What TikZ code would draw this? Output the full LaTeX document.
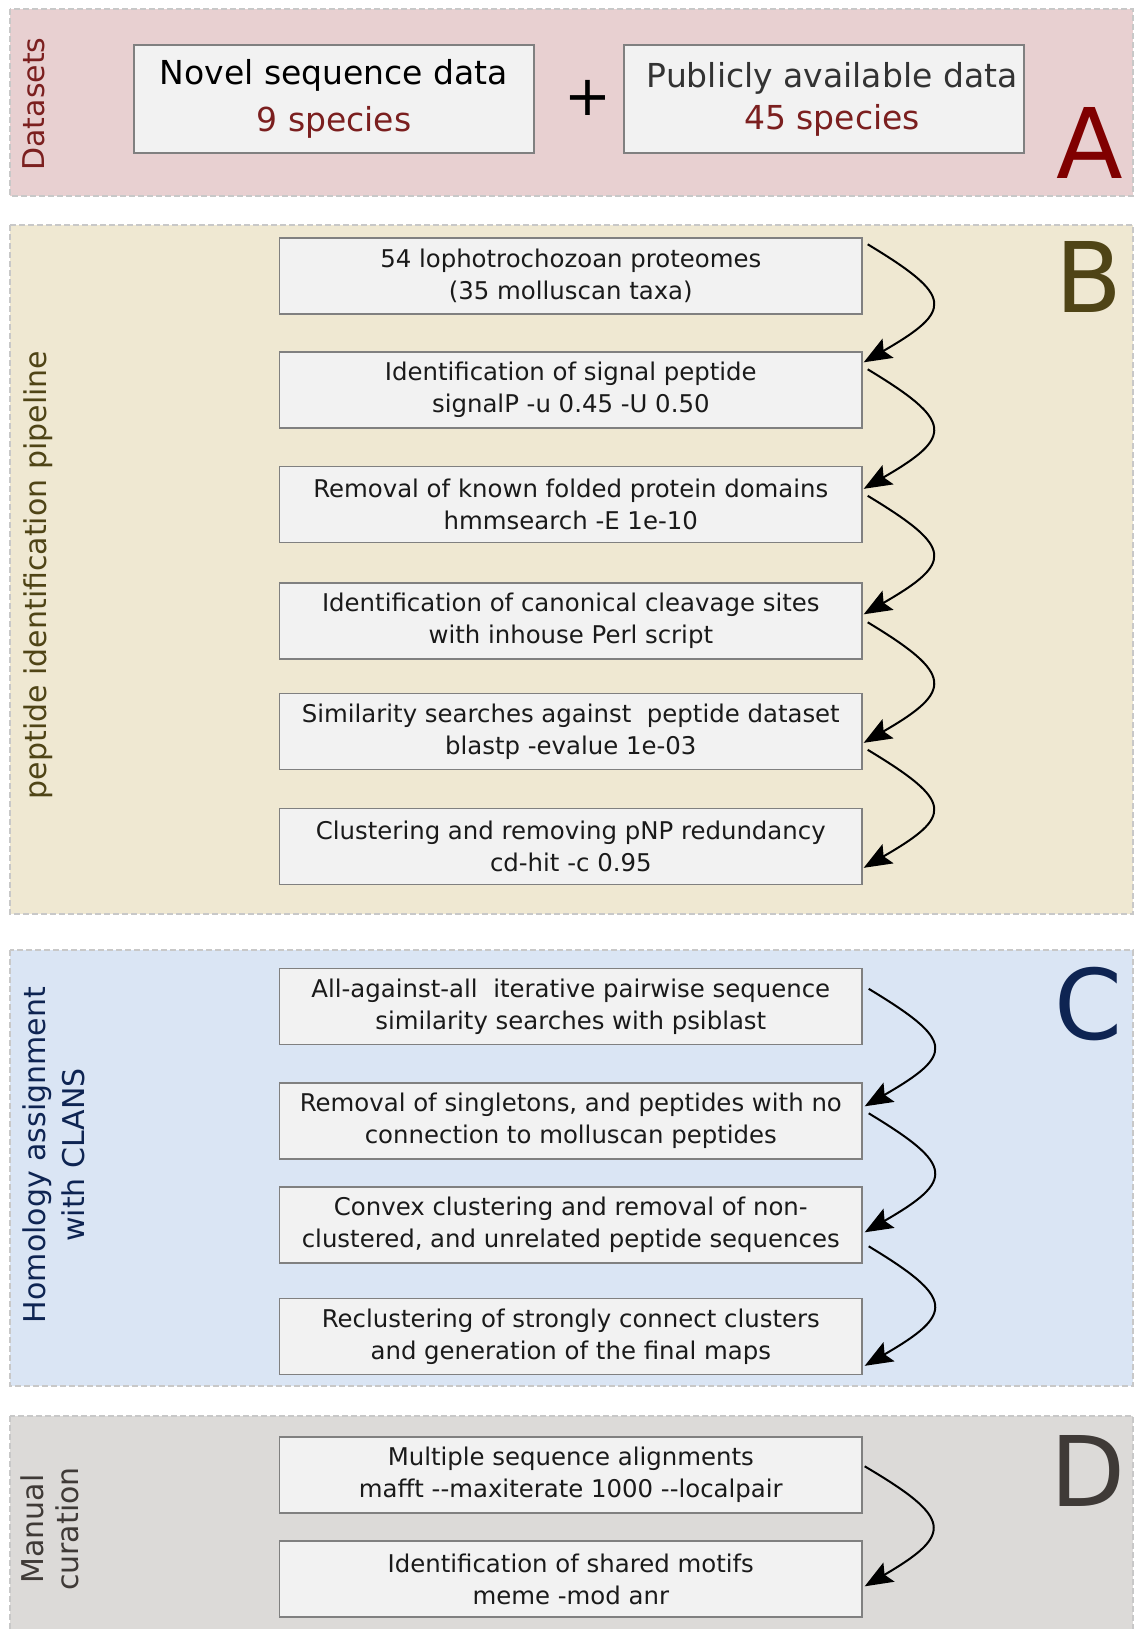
\documentclass[tikz,border=0pt]{standalone}
\usepackage{fontspec}
\setmainfont{DejaVu Sans}
\usetikzlibrary{arrows.meta}
\definecolor{panA}{RGB}{232,208,209}
\definecolor{panB}{RGB}{239,232,210}
\definecolor{panC}{RGB}{218,229,244}
\definecolor{panD}{RGB}{220,218,216}
\definecolor{panBorder}{RGB}{200,200,200}
\definecolor{boxFill}{RGB}{242,242,242}
\definecolor{boxBorder}{RGB}{128,128,128}
\definecolor{textDark}{RGB}{26,26,26}
\definecolor{colA}{RGB}{128,0,0}
\definecolor{redTxt}{RGB}{123,31,31}
\definecolor{colB}{RGB}{79,68,22}
\definecolor{colC}{RGB}{14,36,82}
\definecolor{colD}{RGB}{63,58,55}
\begin{document}
\begin{tikzpicture}[x=0.5pt,y=-0.5pt,
  panel/.style={draw=panBorder, line width=0.75pt, dash pattern=on 3pt off 1.5pt},
  stepbox/.style={draw=boxBorder, fill=boxFill, line width=0.7pt, minimum width=291.2pt, minimum height=38pt, inner sep=0pt, align=center, font=\fontsize{12.2}{16}\selectfont, text=textDark},
  databox/.style={draw=boxBorder, fill=boxFill, line width=0.7pt, minimum width=200pt, minimum height=54pt, inner sep=0pt, align=center},
  arr/.style={-{Stealth[length=14pt,width=11pt,inset=2.5pt]}, line width=1pt, black},
  big/.style={font=\fontsize{48.7}{50}\selectfont, anchor=base, inner sep=0pt},
  side/.style={rotate=90, font=\fontsize{15}{19.5}\selectfont, align=center, inner sep=0pt}
]
\useasboundingbox (0,0) rectangle (1139,1629);
\fill[white] (0,0) rectangle (1139,1629);
\clip (0,0) rectangle (1139,1629);

% panels
\draw[panel, fill=panA] (10,9) rectangle (1133,196);
\draw[panel, fill=panB] (10,225) rectangle (1133,914);
\draw[panel, fill=panC] (10,950) rectangle (1133,1386);
\draw[panel, fill=panD] (10,1416) rectangle (1133,1650);

% side labels
\node[side, text=redTxt] (sA) at (34,104) {Datasets};
\node[side, text=colB] (sB) at (38,575) {peptide identification pipeline};
\node[side, text=colC] (sC) at (54,1155) {Homology assignment\\with CLANS};
\node[side, text=colD, font=\fontsize{15}{17.5}\selectfont] (sD) at (50,1529) {Manual\\curation};

% big letters
\node[big, text=colA] (lA) at (1090,178) {A};
\node[big, text=colB] (lB) at (1089,312) {B};
\node[big, text=colC] (lC) at (1088,1039) {C};
\node[big, text=colD] (lD) at (1088,1506) {D};

% datasets
\node[databox, font=\fontsize{16.5}{23.4}\selectfont] (novel) at (334,99) {\color{black}Novel sequence data\\\color{redTxt}9 species};
\node[font=\fontsize{28}{30}\selectfont, inner sep=0pt] (plus) at (588,98) {+};
\node[databox, font=\fontsize{16.5}{21}\selectfont] (public) at (824,99) {\raisebox{1.2pt}{\color[RGB]{51,51,51}\hspace*{8pt}Publicly available data}\\\raisebox{1.2pt}{\color{redTxt}\hspace*{8pt}45 species}};

% pipeline B
\node[stepbox] (b1) at (570.8,276) {54 lophotrochozoan proteomes\\(35 molluscan taxa)};
\node[stepbox] (b2) at (570.8,390) {Identification of signal peptide\\signalP -u 0.45 -U 0.50};
\node[stepbox] (b3) at (570.8,504.5) {Removal of known folded protein domains\\hmmsearch -E 1e-10};
\node[stepbox] (b4) at (570.8,621) {Identification of canonical cleavage sites\\with inhouse Perl script};
\node[stepbox] (b5) at (570.8,731.5) {Similarity searches against~~peptide dataset\\blastp -evalue 1e-03};
\node[stepbox] (b6) at (570.8,846.5) {Clustering and removing pNP redundancy\\cd-hit -c 0.95};

% homology C
\node[stepbox] (c1) at (570.8,1006.5) {All-against-all~~iterative pairwise sequence\\similarity searches with psiblast};
\node[stepbox] (c2) at (570.8,1121) {Removal of singletons, and peptides with no\\connection to molluscan peptides};
\node[stepbox] (c3) at (570.8,1225) {Convex clustering and removal of non-\\clustered, and unrelated peptide sequences};
\node[stepbox] (c4) at (570.8,1336.5) {Reclustering of strongly connect clusters\\and generation of the final maps};

% curation D
\node[stepbox] (d1) at (570.8,1475) {Multiple sequence alignments\\mafft -{}-maxiterate 1000 -{}-localpair};
\node[stepbox] (d2) at (570.8,1579) {Identification of shared motifs\\meme -mod anr};

% arrows
\draw[arr] ([shift={(5,7)}]b1.north east) .. controls +(86,52) and +(90,-52) .. ([shift={(1,11)}]b2.north east);
\draw[arr] ([shift={(5,18)}]b2.north east) .. controls +(86,52) and +(90,-52) .. ([shift={(1,23)}]b3.north east);
\draw[arr] ([shift={(5,30)}]b3.north east) .. controls +(86,52) and +(90,-52) .. ([shift={(1,32)}]b4.north east);
\draw[arr] ([shift={(5,40)}]b4.north east) .. controls +(86,52) and +(90,-52) .. ([shift={(1,50)}]b5.north east);
\draw[arr] ([shift={(5,57)}]b5.north east) .. controls +(86,52) and +(90,-52) .. ([shift={(1,60)}]b6.north east);
\draw[arr] ([shift={(6,21)}]c1.north east) .. controls +(86,52) and +(90,-52) .. ([shift={(2,24)}]c2.north east);
\draw[arr] ([shift={(6,31)}]c2.north east) .. controls +(86,52) and +(90,-52) .. ([shift={(2,46)}]c3.north east);
\draw[arr] ([shift={(6,60)}]c3.north east) .. controls +(86,52) and +(90,-52) .. ([shift={(2,68)}]c4.north east);
\draw[arr] ([shift={(2,30)}]d1.north east) .. controls +(88,52) and +(89,-52) .. ([shift={(2,46)}]d2.north east);
\end{tikzpicture}
\end{document}
